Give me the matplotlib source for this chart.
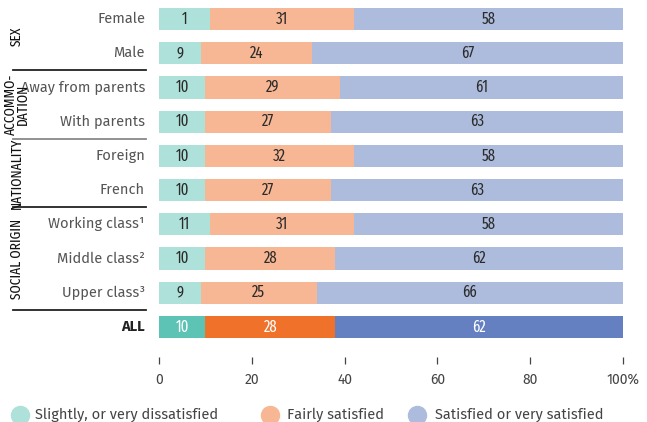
import matplotlib.pyplot as plt
import matplotlib.transforms as mtransforms
from matplotlib.lines import Line2D
import numpy as np

# data
rows = ['Female', 'Male', 'Away from parents', 'With parents', 'Foreign', 'French',
        'Working class\u00b9', 'Middle class\u00b2', 'Upper class\u00b3', 'ALL']
dissatisfied = [11, 9, 10, 10, 10, 10, 11, 10, 9, 10]
dissat_text = ['1', '9', '10', '10', '10', '10', '11', '10', '9', '10']  # as printed
fairly = [31, 24, 29, 27, 32, 27, 31, 28, 25, 28]
satisfied = [58, 67, 61, 63, 58, 63, 58, 62, 66, 62]
groups = [('SEX', 0, 1), ('ACCOMMO-\nDATION', 2, 3), ('NATIONALITY', 4, 5), ('SOCIAL ORIGIN', 6, 8)]
legend_labels = ['Slightly, or very dissatisfied', 'Fairly satisfied', 'Satisfied or very satisfied']

light = ['#aee1d9', '#f8b794', '#adbcdd']
dark = ['#5cc3b5', '#f0712a', '#6480c0']

narrow = ['Fira Sans Extra Condensed', 'Fira Sans Condensed', 'Open Sans', 'DejaVu Sans']
plt.rcParams['font.family'] = ['Fira Sans', 'Open Sans', 'DejaVu Sans']

W, H = 647, 422
fig = plt.figure(figsize=(W / 100, H / 100), dpi=100)
row_px = 34.22
top_px = 19
ax_bottom_px = 357
ax = fig.add_axes([159 / W, 1 - ax_bottom_px / H, 464 / W, ax_bottom_px / H])
ax.set_xlim(0, 100)
ax.set_ylim((ax_bottom_px - top_px) / row_px, -top_px / row_px)

y = np.arange(len(rows))
series = [dissatisfied, fairly, satisfied]
left = np.zeros(len(rows))
for k, vals in enumerate(series):
    vals = np.array(vals, dtype=float)
    cols = [dark[k] if r == 'ALL' else light[k] for r in rows]
    ax.barh(y, vals, left=left, height=0.65, color=cols, edgecolor='none')
    for i, v in enumerate(vals):
        txt = dissat_text[i] if k == 0 else str(int(v))
        c = 'white' if rows[i] == 'ALL' else '#2b2b2b'
        ax.text(left[i] + v / 2, y[i], txt, ha='center', va='center', fontsize=11.5,
                color=c, family=narrow, fontstretch='condensed')
    left += vals

ax.set_yticks([])
ax.set_xticks([0, 20, 40, 60, 80, 100])
ax.set_xticklabels(['0', '20', '40', '60', '80', '100%'], color='#444444', fontsize=10)
ax.tick_params(axis='x', direction='out', length=5, width=0.9, color='#444444', pad=6)
for s in ax.spines.values():
    s.set_visible(False)

# row labels
for i, r in enumerate(rows):
    if r == 'ALL':
        ax.text(-3, i, r, ha='right', va='center', fontsize=10.5, fontweight='bold', color='#222222')
    else:
        ax.text(-3, i, r, ha='right', va='center', fontsize=10.5, color='#555555')

# separators and group labels
blend = mtransforms.blended_transform_factory(fig.transFigure, ax.transData)
sep_cols = {1.5: '#222222', 3.5: '#888888', 5.5: '#222222', 8.5: '#222222'}
for yy, c in sep_cols.items():
    fig.add_artist(Line2D([13 / W, 146 / W], [yy, yy], transform=blend, color=c, lw=1.3))
for name, a, b in groups:
    fig.text(17 / W, (a + b) / 2, name, transform=blend, rotation=90, ha='center', va='center',
             fontsize=10.5, color='#111111', family=narrow, fontstretch='condensed',
             linespacing=0.8)

# legend
leg_y = 1 - 415 / H
for x_c, x_t, lab, c in zip([20, 270, 417], [35, 287, 435], legend_labels, light):
    fig.add_artist(Line2D([x_c / W], [leg_y], marker='o', markersize=13, color=c,
                          transform=fig.transFigure, linestyle='none'))
    fig.text(x_t / W, leg_y, lab, ha='left', va='center', fontsize=10.5, color='#444444')

fig.savefig('out.png', dpi=100)
